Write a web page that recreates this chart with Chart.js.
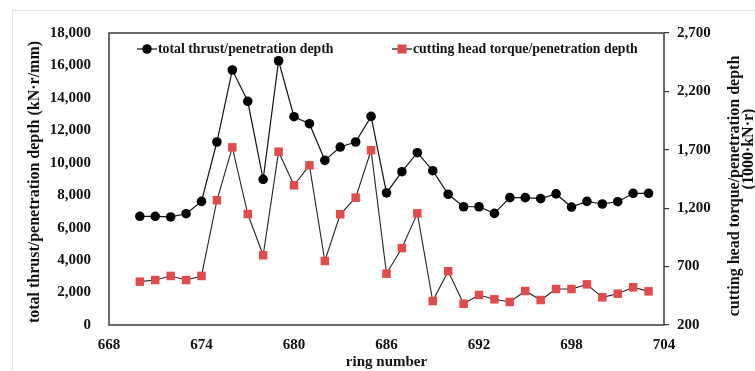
<!DOCTYPE html>
<html>
<head>
<meta charset="utf-8">
<script src="https://cdn.jsdelivr.net/npm/chart.js@4/dist/chart.umd.min.js"></script>
<style>
  html, body { margin: 0; padding: 0; background: #fff; }
  #wrap { position: relative; width: 755px; height: 371px; }
</style>
</head>
<body>
<div id="wrap"><canvas id="chart" width="755" height="371"></canvas></div>
<script>
// ring numbers 670..703
const rings = [670, 671, 672, 673, 674, 675, 676, 677, 678, 679, 680, 681, 682, 683, 684, 685, 686,
               687, 688, 689, 690, 691, 692, 693, 694, 695, 696, 697, 698, 699, 700, 701, 702, 703];
// total thrust / penetration depth (kN·r/mm), left axis
const thrust = [6700, 6700, 6660, 6860, 7620, 11280, 15720, 13790, 8980, 16290, 12840, 12410, 10150, 10970, 11280, 12860, 8140,
                9450, 10620, 9510, 8060, 7290, 7290, 6880, 7850, 7850, 7790, 8080, 7270, 7620, 7460, 7600, 8120, 8120];
// cutting head torque / penetration depth (1000·kN·r), right axis
const torque = [571, 585, 620, 585, 620, 1268, 1721, 1150, 797, 1684, 1396, 1567, 748, 1148, 1290, 1696, 639,
                859, 1156, 405, 660, 382, 457, 420, 397, 491, 414, 508, 508, 548, 437, 468, 523, 488];

const legendLabels = ['total thrust/penetration depth', 'cutting head torque/penetration depth'];
const xTitle = 'ring number';
const yTitle = 'total thrust/penetration depth (kN·r/mm)';
const y1Title = ['cutting head torque/penetration depth', '(1000·kN·r)'];

const FONT = '"Liberation Serif", "Times New Roman", serif';
const RED = '#E14B4B';

const extras = {
    id: 'extras',
    beforeDraw(chart) {
        const ctx = chart.ctx;
        ctx.save();
        ctx.strokeStyle = '#e2e2e2';
        ctx.lineWidth = 1;
        ctx.beginPath();
        ctx.moveTo(12.5, 371);
        ctx.lineTo(12.5, 10.5);
        ctx.lineTo(755, 10.5);
        ctx.stroke();
        ctx.restore();
    },
    afterDraw(chart) {
        const ctx = chart.ctx;
        const a = chart.chartArea;
        ctx.save();
        // plot frame
        ctx.strokeStyle = '#3a3a3a';
        ctx.lineWidth = 1.5;
        ctx.strokeRect(a.left, a.top, a.right - a.left, a.bottom - a.top);

        ctx.fillStyle = '#111';
        ctx.font = 'bold 15px ' + FONT;
        ctx.textAlign = 'center';
        ctx.textBaseline = 'middle';
        ctx.fillText(xTitle, (a.left + a.right) / 2, 362);

        ctx.font = 'bold 16px ' + FONT;
        ctx.save();
        ctx.translate(35, 182);
        ctx.rotate(-Math.PI / 2);
        ctx.fillText(yTitle, 0, 0);
        ctx.restore();

        ctx.save();
        ctx.translate(735, 186);
        ctx.rotate(-Math.PI / 2);
        ctx.fillText(y1Title[0], 0, 0);
        ctx.restore();
        ctx.save();
        ctx.translate(749, 149);
        ctx.rotate(-Math.PI / 2);
        ctx.fillText(y1Title[1], 0, 0);
        ctx.restore();

        // legend
        ctx.font = 'bold 13.8px ' + FONT;
        ctx.textAlign = 'left';
        ctx.strokeStyle = '#111';
        ctx.lineWidth = 1.2;
        const ly = 49;
        ctx.beginPath();
        ctx.moveTo(137, ly); ctx.lineTo(157, ly); ctx.stroke();
        ctx.beginPath();
        ctx.arc(147, ly, 4.8, 0, Math.PI * 2);
        ctx.fillStyle = '#000';
        ctx.fill();
        ctx.fillStyle = '#111';
        ctx.fillText(legendLabels[0], 158, ly);

        ctx.beginPath();
        ctx.moveTo(392, ly); ctx.lineTo(412, ly); ctx.stroke();
        ctx.fillStyle = RED;
        ctx.fillRect(397.5, ly - 4.5, 9, 9);
        ctx.fillStyle = '#111';
        ctx.fillText(legendLabels[1], 413, ly);
        ctx.restore();
    }
};

new Chart(document.getElementById('chart'), {
    type: 'line',
    data: {
        datasets: [
            {
                label: legendLabels[0],
                data: rings.map((r, i) => ({ x: r, y: thrust[i] })),
                yAxisID: 'y',
                borderColor: '#111',
                borderWidth: 1.2,
                pointStyle: 'circle',
                pointRadius: 4.8,
                pointBackgroundColor: '#000',
                pointBorderWidth: 0,
                tension: 0
            },
            {
                label: legendLabels[1],
                data: rings.map((r, i) => ({ x: r, y: torque[i] })),
                yAxisID: 'y1',
                borderColor: '#222',
                borderWidth: 1.1,
                pointStyle: 'rect',
                pointRadius: 6,
                pointBackgroundColor: RED,
                pointBorderColor: RED,
                pointBorderWidth: 0,
                tension: 0
            }
        ]
    },
    options: {
        responsive: false,
        animation: false,
        events: [],
        layout: { padding: { top: 33, left: 0, right: 0, bottom: 0 } },
        plugins: {
            legend: { display: false },
            tooltip: { enabled: false }
        },
        scales: {
            x: {
                type: 'linear',
                min: 668,
                max: 704,
                border: { display: false },
                grid: { display: false, drawTicks: false },
                ticks: {
                    stepSize: 6,
                    padding: 11,
                    color: '#111',
                    font: { family: FONT, size: 15, weight: 'bold' }
                },
                afterFit(scale) { scale.height = 46; }
            },
            y: {
                position: 'left',
                min: 0,
                max: 18000,
                border: { display: false },
                grid: { display: false, drawTicks: false },
                ticks: {
                    stepSize: 2000,
                    padding: 18,
                    color: '#111',
                    font: { family: FONT, size: 15, weight: 'bold' },
                    callback: v => v.toLocaleString('en-US')
                },
                afterFit(scale) { scale.width = 109; }
            },
            y1: {
                position: 'right',
                min: 200,
                max: 2700,
                border: { display: false },
                grid: { drawOnChartArea: false, drawTicks: true, tickLength: 5, color: '#3a3a3a', lineWidth: 1.2 },
                ticks: {
                    stepSize: 500,
                    padding: 8,
                    color: '#111',
                    font: { family: FONT, size: 15, weight: 'bold' },
                    callback: v => v.toLocaleString('en-US')
                },
                afterFit(scale) { scale.width = 91; }
            }
        }
    },
    plugins: [extras]
});
</script>
</body>
</html>
